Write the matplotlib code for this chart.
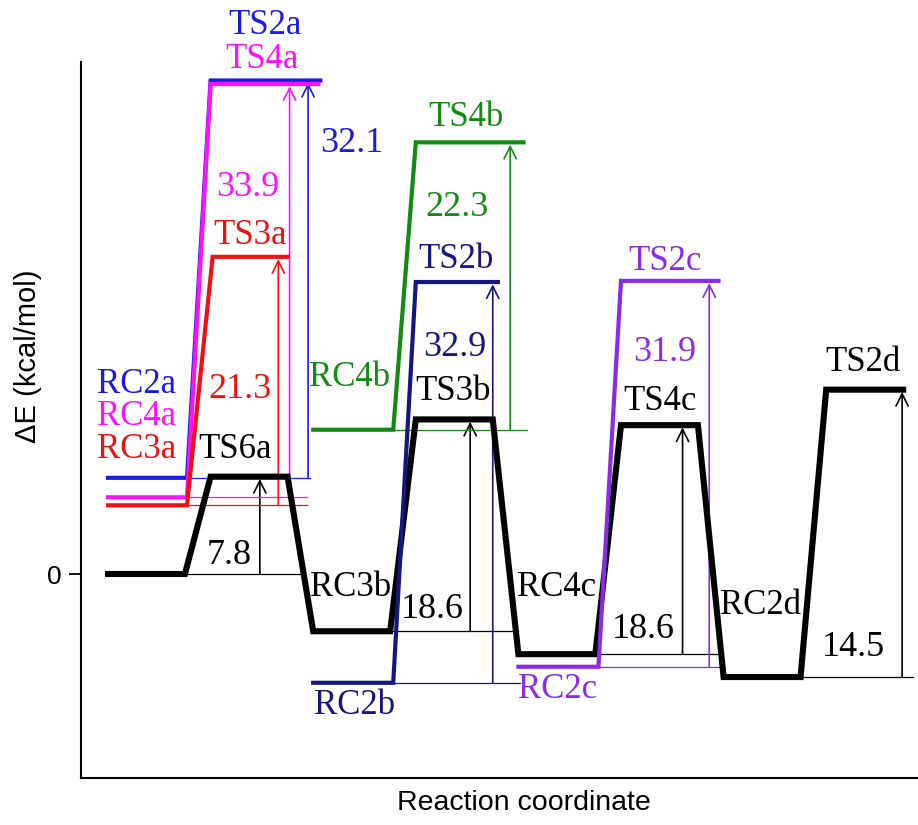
import matplotlib
matplotlib.use("Agg")
import matplotlib.pyplot as plt

# energies of the stationary points (kcal/mol, as drawn on the schematic)
main_names = ["", "TS6a", "RC3b", "TS3b", "RC4c", "TS4c", "RC2d", "TS2d"]
main_E = [0.0, 8.5, -5.0, 13.5, -7.0, 13.0, -9.0, 16.1]

# side channels: (RC energy, TS energy)
side_names = ["2a", "4a", "3a", "4b", "2b", "2c"]
side_rc_E = [8.4, 6.7, 6.0, 12.6, -9.5, -8.1]
side_ts_E = [43.1, 42.8, 27.7, 37.7, 25.5, 25.6]
side_stage = [0, 0, 0, 2, 2, 4]
side_colors = ["#1c1ce0", "#ff10ff", "#ee1111", "#138a13", "#161680", "#8a2be8"]

# barrier labels
barrier_txt = ["7.8", "18.6", "18.6", "14.5"]
side_barrier_txt = ["32.1", "33.9", "21.3", "22.3", "32.9", "31.9"]

fig = plt.figure(figsize=(9.18, 8.25), dpi=100)
ax = fig.add_axes([81 / 918, 1 - 778 / 825, 1 - 81 / 918, (778 - 62) / 825])

W = 0.75  # plateau width


def px(p):
    return (p - 108) / 102.6


def py(p):
    return (574 - p) / 11.45


# main black path
xs, ys = [], []
for i, e in enumerate(main_E):
    xs += [i, i + W]
    ys += [e, e]
ax.plot(xs, ys, color="black", lw=4.4, solid_joinstyle="miter", zorder=3)

# side path extents
rc_end = [0.77, 0.77, 0.77, 2.78, 2.78, 4.78]
ts_start = [1.0, 1.0, 1.02, 3.0, 3.0, 5.0]
ts_end = [2.07, 2.05, 1.75, 4.05, 3.8, 5.95]
for k in range(len(side_names)):
    s = side_stage[k]
    ax.plot([s, rc_end[k], ts_start[k], ts_end[k]],
            [side_rc_E[k], side_rc_E[k], side_ts_E[k], side_ts_E[k]],
            color=side_colors[k], lw=3.0, solid_joinstyle="miter", zorder=4)

# arrows + guides, main path
arr_x = [1.48, 3.53, 5.6, 7.74]
guide_end = [1.9, 4.0, 5.96, 7.85]
for j, st in enumerate([0, 2, 4, 6]):
    e0, e1 = main_E[st], main_E[st + 1]
    ax.plot([st + W, guide_end[j]], [e0, e0], color="black", lw=0.9, zorder=2)
    ax.annotate("", xy=(arr_x[j], e1 - 0.2), xytext=(arr_x[j], e0),
                arrowprops=dict(arrowstyle="->", color="black", lw=1.2,
                                mutation_scale=22, shrinkA=0, shrinkB=0), zorder=2)

# arrows + guides, side paths
side_arr_x = [1.95, 1.77, 1.66, 3.92, 3.75, 5.86]
side_guide_end = [1.97, 1.94, 1.94, 4.08, 4.02, 6.01]
for k in range(len(side_names)):
    e0, e1 = side_rc_E[k], side_ts_E[k]
    ax.plot([rc_end[k], side_guide_end[k]], [e0, e0], color=side_colors[k], lw=0.9, zorder=2)
    ax.annotate("", xy=(side_arr_x[k], e1 - 0.2), xytext=(side_arr_x[k], e0),
                arrowprops=dict(arrowstyle="->", color=side_colors[k], lw=1.2,
                                mutation_scale=22, shrinkA=0, shrinkB=0), zorder=2)

# labels (pixel positions from the figure)
serif = "Liberation Serif"
fs = 25
fs_num = 26
labels = [
    ("TS2a", 265, 25, 0), ("TS4a", 262, 60, 1), ("32.1", 352, 143, 0),
    ("33.9", 248, 187, 1), ("TS3a", 250, 235, 2), ("21.3", 240, 390, 2),
    ("RC2a", 137, 385, 0), ("RC4a", 137, 417, 1), ("RC3a", 137, 450, 2),
    ("TS4b", 466, 118, 3), ("22.3", 457, 207, 3), ("RC4b", 350, 378, 3),
    ("TS2b", 456, 260, 4), ("32.9", 455, 348, 4), ("RC2b", 355, 705, 4),
    ("TS2c", 665, 261, 5), ("31.9", 665, 353, 5), ("RC2c", 558, 690, 5),
]
for t, x, y, c in labels:
    size = fs_num if t in side_barrier_txt else fs
    ax.text(px(x), py(y), t, color=side_colors[c], fontsize=size, family=serif,
            ha="center", va="center", zorder=6)

black_labels = [
    ("TS6a", 235, 450), ("7.8", 229, 555), ("RC3b", 351, 587), ("18.6", 432, 610),
    ("TS3b", 453, 392), ("RC4c", 557, 588), ("18.6", 643, 630), ("TS4c", 660, 402),
    ("RC2d", 761, 605), ("14.5", 853, 647), ("TS2d", 863, 363),
]
for t, x, y in black_labels:
    size = fs_num if t in barrier_txt else fs
    ax.text(px(x), py(y), t, color="black", fontsize=size, family=serif,
            ha="center", va="center", zorder=6)

ax.set_xlim(px(81), px(918))
ax.set_ylim(py(778), py(62))
ax.spines["top"].set_visible(False)
ax.spines["right"].set_visible(False)
ax.spines["left"].set_linewidth(1.5)
ax.spines["bottom"].set_linewidth(1.5)
ax.set_xticks([])
ax.set_yticks([0])
ax.set_yticklabels(["0"], family="Liberation Sans")
ax.tick_params(axis="y", length=9, width=1.3, pad=5, labelsize=19)

fig.text(28 / 918, 1 - 356 / 825, "ΔE (kcal/mol)", rotation=90, ha="center", va="center",
         fontsize=21, family="Liberation Sans")
fig.text(524 / 918, 1 - 803 / 825, "Reaction coordinate", ha="center", va="center",
         fontsize=20.5, family="Liberation Sans")

fig.savefig("out.png", dpi=100)
